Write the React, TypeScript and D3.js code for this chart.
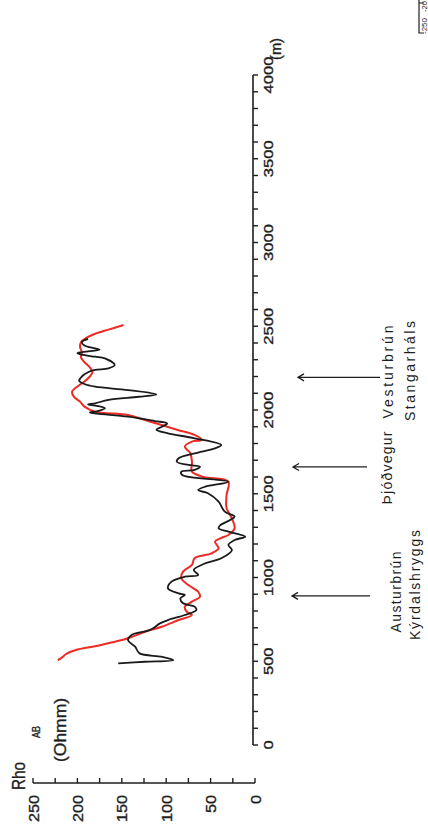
import React from 'react';
import * as d3 from 'd3';

// Black sounding curve (distance in m, apparent resistivity in Ohmm)
const blackDistance = [487, 497, 507, 527, 547, 587, 627, 657, 687, 726, 746, 776, 806, 826, 846, 876, 896, 905, 935, 975, 1005, 1015, 1045, 1085, 1115, 1164, 1194, 1224, 1244, 1274, 1294, 1313, 1343, 1363, 1393, 1453, 1503, 1522, 1542, 1572, 1612, 1632, 1642, 1662, 1672, 1691, 1712, 1741, 1771, 1791, 1831, 1861, 1881, 1900, 1920, 1934, 1960, 1978, 1985, 1992, 2010, 2025, 2033, 2040, 2060, 2079, 2093, 2119, 2139, 2155, 2175, 2200, 2225, 2239, 2249, 2269, 2308, 2318, 2330, 2340, 2350, 2360, 2368, 2385, 2405, 2425];
const blackRho = [154, 124, 92, 105, 130, 135, 143, 139, 118, 107, 98, 79, 66, 68, 81, 84, 79, 86, 98, 94, 79, 64, 69, 56, 38, 26, 30, 23, 11, 30, 41, 39, 28, 23, 34, 41, 53, 64, 56, 30, 82, 83, 68, 62, 75, 88, 86, 68, 45, 38, 68, 98, 111, 105, 99, 113, 143, 178, 186, 178, 169, 178, 188, 180, 165, 131, 111, 143, 180, 192, 198, 195, 188, 180, 165, 158, 169, 180, 195, 200, 188, 175, 180, 192, 195, 188];

// Red sounding curve
const redDistance = [505, 520, 545, 570, 590, 612, 637, 676, 706, 746, 776, 796, 826, 856, 885, 915, 955, 995, 1035, 1075, 1115, 1144, 1174, 1214, 1234, 1254, 1294, 1353, 1413, 1493, 1572, 1600, 1632, 1691, 1743, 1781, 1811, 1821, 1851, 1881, 1910, 1940, 1970, 1990, 2020, 2050, 2080, 2110, 2140, 2170, 2200, 2225, 2255, 2285, 2315, 2345, 2375, 2405, 2430, 2455, 2480, 2507];
const redRho = [222, 218, 212, 200, 180, 162, 143, 124, 105, 86, 71, 77, 79, 71, 62, 64, 75, 83, 81, 71, 68, 49, 41, 45, 39, 30, 23, 26, 32, 32, 30, 58, 71, 71, 73, 79, 71, 60, 68, 87, 105, 124, 143, 180, 192, 197, 204, 206, 200, 192, 186, 183, 186, 192, 196, 195, 197, 196, 190, 180, 165, 148];

const distanceLabels = [0, 500, 1000, 1500, 2000, 2500, 3000, 3500, 4000];
const rhoLabels = [0, 50, 100, 150, 200, 250];

const markerDistances = [890, 1660, 2195];
const markerLines1 = ['Austurbrún', 'Þjóðvegur', 'Vesturbrún'];
const markerLines2 = ['Kýrdalshryggs', '', 'Stangarháls'];

export default function App() {
  const W = 428;
  const H = 827;
  const y = d3.scaleLinear().domain([0, 4000]).range([745, 75]);
  const x = d3.scaleLinear().domain([0, 250]).range([255, 33]);

  const mkLine = (dist: number[], rho: number[]) =>
    d3
      .line<number>()
      .x((i) => x(rho[i]))
      .y((i) => y(dist[i]))
      .curve(d3.curveCatmullRom.alpha(0.5))(d3.range(dist.length)) || '';

  const blackPath = mkLine(blackDistance, blackRho);
  const redPath = mkLine(redDistance, redRho);

  const distMinor = d3.range(0, 4001, 100);
  const rhoMinor = d3.range(0, 251, 25);

  const axisX = 253;
  const rhoAxisY = 783;
  const font = "'Liberation Sans', Arial, sans-serif";
  const ink = '#1e1e1e';
  const bold = { stroke: ink, strokeWidth: 0.35 } as const;

  // marker geometry
  const arrowHead = [292, 293, 298];
  const arrowTail = [370, 367, 380];
  const label1X = [401, 392, 393];
  const label1Len = [81, 73, 93];
  const label1Cy = [592, 468, 372];
  const label2X = [420, 0, 415];
  const label2Len = [110, 0, 100];
  const label2Cy = [585, 0, 371];

  return (
    <svg
      width={W}
      height={H}
      style={{ position: 'absolute', left: 0, top: 0, background: '#fff' }}
      fontFamily={font}
    >
      <rect x={0} y={0} width={W} height={H} fill="#fff" />

      {/* distance axis */}
      <line x1={axisX} x2={axisX} y1={y(4000)} y2={y(0)} stroke={ink} strokeWidth={1.6} />
      {distMinor.map((d) => (
        <line key={'dt' + d} x1={axisX} x2={axisX + 5} y1={y(d)} y2={y(d)} stroke={ink} strokeWidth={1.4} />
      ))}
      {distanceLabels.map((d) => {
        const s = String(d);
        return (
          <text
            key={'dl' + d}
            transform={`translate(${273},${y(d)}) rotate(-90)`}
            textAnchor="middle"
            fontSize={12.5}
            fill={ink}
            {...bold}
            textLength={s.length * 9.2}
            lengthAdjust="spacingAndGlyphs"
          >
            {s}
          </text>
        );
      })}
      <text
        transform={`translate(${281},${60}) rotate(-90)`}
        textAnchor="start"
        fontSize={14}
        fill={ink}
        {...bold}
        textLength={22}
        lengthAdjust="spacingAndGlyphs"
      >
        (m)
      </text>

      {/* rho axis */}
      <line x1={x(250)} x2={x(0)} y1={rhoAxisY} y2={rhoAxisY} stroke={ink} strokeWidth={1.6} />
      {rhoMinor.map((r) => (
        <line key={'rt' + r} x1={x(r)} x2={x(r)} y1={rhoAxisY} y2={rhoAxisY - 5} stroke={ink} strokeWidth={1.4} />
      ))}
      {rhoLabels.map((r) => {
        const s = String(r);
        return (
          <text
            key={'rl' + r}
            transform={`translate(${x(r) + 5.5},${795}) rotate(-90)`}
            textAnchor="end"
            fontSize={14.5}
            fill={ink}
            {...bold}
            textLength={s.length * 9}
            lengthAdjust="spacingAndGlyphs"
          >
            {s}
          </text>
        );
      })}
      <text
        transform={`translate(${25},${790}) rotate(-90)`}
        fontSize={19}
        fill={ink}
        {...bold}
        textLength={28}
        lengthAdjust="spacingAndGlyphs"
      >
        Rho
      </text>
      <text
        transform={`translate(${40},${738}) rotate(-90)`}
        fontSize={11}
        fill={ink}
        {...bold}
        textLength={12}
        lengthAdjust="spacingAndGlyphs"
      >
        AB
      </text>
      <text
        transform={`translate(${66},${762}) rotate(-90)`}
        fontSize={16}
        fill={ink}
        {...bold}
        textLength={64}
        lengthAdjust="spacingAndGlyphs"
      >
        (Ohmm)
      </text>

      {/* curves */}
      <path d={redPath} fill="none" stroke="#ec2b24" strokeWidth={2} strokeLinejoin="round" />
      <path d={blackPath} fill="none" stroke="#1a1a1a" strokeWidth={1.8} strokeLinejoin="round" />

      {/* markers */}
      {markerDistances.map((d, i) => {
        const yy = y(d);
        const h = arrowHead[i];
        return (
          <g key={'m' + i}>
            <path
              d={`M${arrowTail[i]},${yy}L${h},${yy}M${h + 6},${yy - 3.5}L${h},${yy}L${h + 6},${yy + 3.5}`}
              fill="none"
              stroke={ink}
              strokeWidth={1.3}
            />
            <text
              transform={`translate(${label1X[i]},${label1Cy[i]}) rotate(-90)`}
              textAnchor="middle"
              fontSize={14}
              fill={ink}
              textLength={label1Len[i]}
            >
              {markerLines1[i]}
            </text>
            {markerLines2[i] && (
              <text
                transform={`translate(${label2X[i]},${label2Cy[i]}) rotate(-90)`}
                textAnchor="middle"
                fontSize={14}
                fill={ink}
                textLength={label2Len[i]}
              >
                {markerLines2[i]}
              </text>
            )}
          </g>
        );
      })}

      {/* fragment of neighbouring figure at top-right */}
      <path d="M419,0L419,33L424,33M419,3L424,3" fill="none" stroke={ink} strokeWidth={1.2} />
      <text transform="translate(427,12) rotate(-90)" fontSize={8} fill={ink} textLength={11} lengthAdjust="spacingAndGlyphs">-20</text>
      <text transform="translate(427,34) rotate(-90)" fontSize={8} fill={ink} textLength={16} lengthAdjust="spacingAndGlyphs">-250</text>
    </svg>
  );
}
